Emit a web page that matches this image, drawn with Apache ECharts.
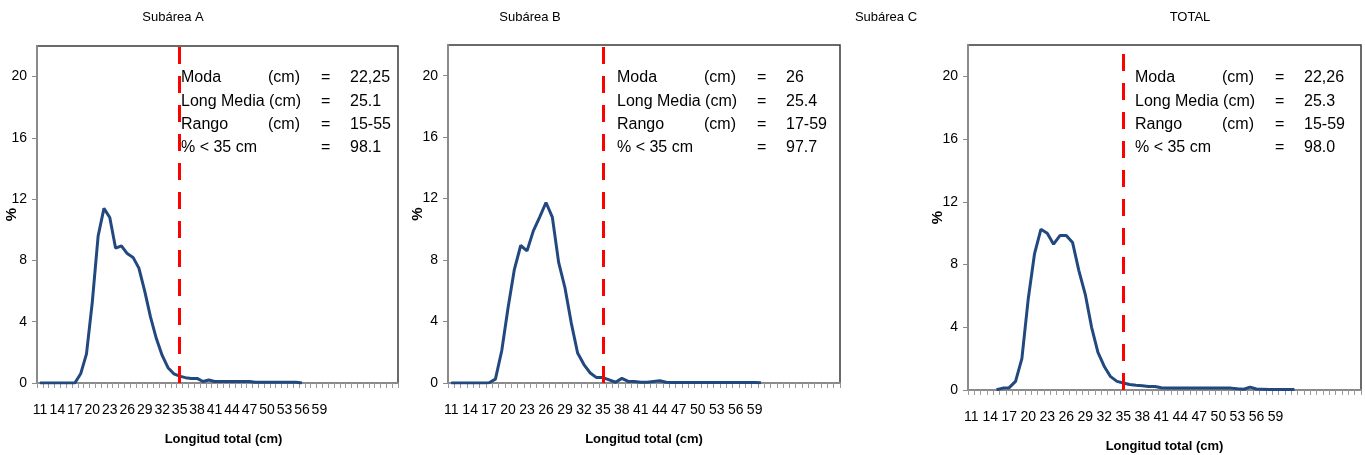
<!DOCTYPE html>
<html><head><meta charset="utf-8">
<script src="https://cdn.jsdelivr.net/npm/echarts@6/dist/echarts.min.js"></script>
<style>html,body{margin:0;padding:0;background:#fff}#c{width:1365px;height:455px}</style>
</head><body><div id="c"></div>
<script>
// ---- data ----
const lengths = [11,12,13,14,15,16,17,18,19,20,21,22,23,24,25,26,27,28,29,30,31,32,33,34,35,36,37,38,39,40,
  41,42,43,44,45,46,47,48,49,50,51,52,53,54,55,56,57,58,59,60,61,62,63,64,65,66,67,68,69,70,71,72];
const lastLabelled = 59;
const threshold = 35;
// Subárea A: 11..56
const subA = [0,0,0,0,0,0,0,0.6,1.9,5.3,9.6,11.4,10.8,8.8,8.95,8.45,8.2,7.5,6.0,4.3,2.9,1.8,1.0,0.6,0.45,
  0.35,0.3,0.3,0.1,0.2,0.1,0.1,0.1,0.1,0.1,0.1,0.1,0.05,0.05,0.05,0.05,0.05,0.05,0.05,0.05,0];
// Subárea B: 11..60
const subB = [0,0,0,0,0,0,0.02,0.25,2.1,4.9,7.4,8.95,8.6,9.9,10.8,11.75,10.8,7.85,6.2,3.9,1.95,1.2,0.65,0.35,0.35,
  0.2,0.05,0.3,0.1,0.1,0.05,0.05,0.1,0.15,0.05,0.03,0.03,0.03,0.03,0.03,0.03,0.03,0.03,0.03,0.03,0.03,0.03,0.03,0.03,0.02];
// TOTAL: 11..62
const subT = [null,null,null,null,0.02,0.12,0.15,0.55,2.0,5.8,8.7,10.25,10.0,9.3,9.85,9.85,9.4,7.6,6.1,4.0,2.4,1.5,0.85,0.55,0.45,
  0.35,0.3,0.27,0.22,0.22,0.15,0.12,0.12,0.12,0.12,0.12,0.12,0.12,0.12,0.12,0.12,0.12,0.08,0.05,0.18,0.06,0.05,0.03,0.03,0.03,0.03,0.03];
const yMax = 22;
const yStep = 4;
const panelTitles = ['Subárea A','Subárea B','Subárea C','TOTAL'];
const statLabels = ['Moda','Long Media (cm)','Rango','% < 35 cm'];
const statUnits = ['(cm)','','(cm)',''];
const statsA = ['22,25','25.1','15-55','98.1'];
const statsB = ['26','25.4','17-59','97.7'];
const statsT = ['22,26','25.3','15-59','98.0'];
const xName = 'Longitud total (cm)';
const yName = '%';

// ---- layout ----
const FONT = '"Liberation Sans", Arial, sans-serif';
const grids = [
  {left: 37, top: 46, width: 361, height: 337},
  {left: 448, top: 45, width: 392, height: 338},
  {left: 968, top: 45, width: 393, height: 345}
];
const seriesData = [subA, subB, subT];
const stats = [statsA, statsB, statsT];
const statX = [181, 617, 1135];
const titleX = [173, 530, 886, 1190];
const namePad = [[0,0,0,12],[0,0,0,0],[0,0,0,0]];
const yNameGap = [18, 23, 23];

const chart = echarts.init(document.getElementById('c'));
const idx35 = lengths.indexOf(threshold);

const graphic = [];
panelTitles.forEach((t, i) => {
  graphic.push({type: 'text', x: titleX[i], y: 17, style: {text: t, font: '13px ' + FONT, fill: '#000', align: 'center', verticalAlign: 'middle'}});
});
stats.forEach((vals, p) => {
  const x0 = statX[p];
  statLabels.forEach((lab, r) => {
    const y = 78 + r * 23.3;
    const st = (text, dx) => ({type: 'text', x: x0 + dx, y: y, z: 10,
      style: {text: text, font: '16px ' + FONT, fill: '#000', align: 'left', verticalAlign: 'middle'}});
    graphic.push(st(lab, 0));
    if (statUnits[r]) graphic.push(st(statUnits[r], 87));
    graphic.push(st('=', 140));
    graphic.push(st(vals[r], 169));
  });
});

const option = {
  animation: false,
  backgroundColor: '#fff',
  textStyle: {fontFamily: FONT},
  grid: grids.map(g => Object.assign({show: true, borderColor: '#3a3a3a', borderWidth: 1.5, containLabel: false, outerBoundsMode: 'none'}, g)),
  xAxis: grids.map((g, i) => ({
    type: 'category', gridIndex: i, data: lengths, boundaryGap: true,
    axisLine: {lineStyle: {color: '#8a8a8a', width: 2}},
    axisTick: {show: true, interval: 0, length: 5, lineStyle: {color: '#9a9a9a', width: 1}},
    axisLabel: {interval: 2, margin: 20, fontSize: 14, color: '#000', fontFamily: FONT,
      formatter: v => (+v <= lastLabelled ? String(v) : '')},
    splitLine: {show: false},
    name: xName, nameLocation: 'middle', nameGap: 50, nameMoveOverlap: false,
    nameTextStyle: {fontSize: 13, fontWeight: 'bold', color: '#000', fontFamily: FONT, padding: namePad[i]}
  })),
  yAxis: grids.map((g, i) => ({
    type: 'value', gridIndex: i, min: 0, max: yMax, interval: yStep,
    axisLine: {show: true, lineStyle: {color: '#8a8a8a', width: 2}},
    axisTick: {show: true, length: 5, lineStyle: {color: '#8a8a8a', width: 1}},
    axisLabel: {fontSize: 14, color: '#000', margin: 10, showMaxLabel: false, fontFamily: FONT},
    splitLine: {show: false},
    name: yName, nameLocation: 'middle', nameGap: yNameGap[i], nameMoveOverlap: false,
    nameTextStyle: {fontSize: 15, fontWeight: 'bold', color: '#000', fontFamily: FONT}
  })),
  series: seriesData.map((d, i) => ({
    type: 'line', xAxisIndex: i, yAxisIndex: i, data: d,
    symbol: 'none', connectNulls: false,
    lineStyle: {color: '#22497F', width: 3},
    markLine: {
      silent: true, symbol: ['none', 'none'], label: {show: false},
      lineStyle: {color: '#FF0000', width: 3, type: [17, 12]},
      data: [{xAxis: idx35}]
    }
  })),
  graphic: graphic
};
chart.setOption(option);
</script>
</body></html>
